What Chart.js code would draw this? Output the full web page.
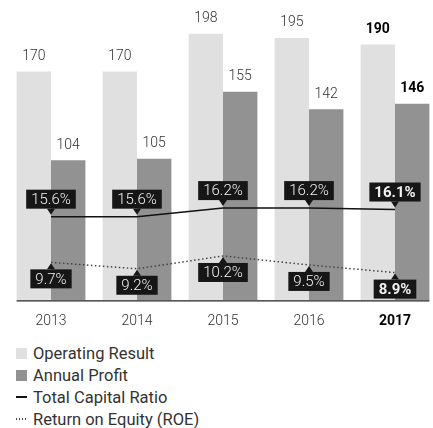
<!DOCTYPE html>
<html>
<head>
<meta charset="utf-8">
<script src="https://cdn.jsdelivr.net/npm/chart.js@4/dist/chart.umd.min.js"></script>
<style>
  html, body { margin: 0; padding: 0; background: #fff; overflow: hidden; }
  body { width: 433px; height: 428px; position: relative; font-family: Roboto, "Liberation Sans", sans-serif; }
  #chart { position: absolute; left: 0; top: 0; }
  #legend { position: absolute; left: 16px; top: 342px; color: #333; font-size: 16.5px; font-weight: 400; }
  #legend .item { height: 22px; display: flex; align-items: center; }
  #legend .sw { display: inline-block; width: 11px; margin-right: 6px; }
</style>
</head>
<body>
<canvas id="chart" width="438" height="340"></canvas>
<div id="legend"></div>
<script>
// Key figures 2013-2017
const years = ['2013', '2014', '2015', '2016', '2017'];
const operatingResult = [170, 170, 198, 195, 190];
const annualProfit = [104, 105, 155, 142, 146];
const capitalRatio = [15.6, 15.6, 16.2, 16.2, 16.1];
const roe = [9.7, 9.2, 10.2, 9.5, 8.9];

const lightGrey = '#e0e0e0';
const darkGrey = '#929292';
const lastIdx = years.length - 1;
const fontFamily = 'Roboto, "Liberation Sans", sans-serif';

const fmtPct = v => v.toFixed(1) + '%';

// numbers above the bars
const barValues = {
    id: 'barValues',
    afterDatasetsDraw(chart) {
        const ctx = chart.ctx;
        ctx.save();
        ctx.textAlign = 'center';
        ctx.textBaseline = 'middle';
        chart.data.datasets.forEach((ds, i) => {
            if (ds.type !== 'bar') return;
            chart.getDatasetMeta(i).data.forEach((bar, j) => {
                const last = j === lastIdx;
                ctx.font = (last ? 'bold ' : '300 ') + '14px ' + fontFamily;
                ctx.fillStyle = last ? '#000' : '#333';
                ctx.fillText(ds.data[j], bar.x, bar.y - 15);
            });
        });
        ctx.restore();
    }
};

// black callouts on the ratio lines
const ratioTags = {
    id: 'ratioTags',
    afterDatasetsDraw(chart) {
        const ctx = chart.ctx;
        ctx.save();
        ctx.textAlign = 'center';
        ctx.textBaseline = 'middle';
        chart.data.datasets.forEach((ds, i) => {
            if (!ds.tag) return;
            chart.getDatasetMeta(i).data.forEach((pt, j) => {
                const last = j === lastIdx;
                ctx.font = (last ? 'bold ' : '300 ') + '15px ' + fontFamily;
                const text = fmtPct(ds.data[j]);
                const w = ctx.measureText(text).width + 10;
                const h = 19;
                let top, tipY, baseY;
                if (ds.tag === 'above') {
                    top = pt.y - 8 - h;
                    baseY = top + h;
                    tipY = pt.y - 2;
                } else {
                    top = pt.y + 7;
                    baseY = top;
                    tipY = pt.y + 1;
                }
                ctx.fillStyle = '#161616';
                ctx.fillRect(pt.x - w / 2, top, w, h);
                ctx.beginPath();
                ctx.moveTo(pt.x - 4, baseY);
                ctx.lineTo(pt.x + 4, baseY);
                ctx.lineTo(pt.x, tipY);
                ctx.closePath();
                ctx.fill();
                ctx.fillStyle = '#f2f2f2';
                ctx.fillText(text, pt.x, top + h / 2 + 1);
            });
        });
        ctx.restore();
    }
};

// baseline under the bars only
const baseLine = {
    id: 'baseLine',
    afterDatasetsDraw(chart) {
        const first = chart.getDatasetMeta(0).data[0];
        const lastBar = chart.getDatasetMeta(1).data[lastIdx];
        const ctx = chart.ctx;
        const y = chart.chartArea.bottom + 0.8;
        ctx.save();
        ctx.strokeStyle = '#222';
        ctx.lineWidth = 1.3;
        ctx.beginPath();
        ctx.moveTo(first.x - first.width / 2, y);
        ctx.lineTo(lastBar.x + lastBar.width / 2, y);
        ctx.stroke();
        ctx.restore();
    }
};

const chart = new Chart(document.getElementById('chart'), {
    data: {
        labels: years,
        datasets: [
            {
                type: 'bar',
                label: 'Operating Result',
                data: operatingResult,
                backgroundColor: lightGrey,
                yAxisID: 'y',
                order: 2,
                barPercentage: 1,
                categoryPercentage: 0.8
            },
            {
                type: 'bar',
                label: 'Annual Profit',
                data: annualProfit,
                backgroundColor: darkGrey,
                yAxisID: 'y',
                order: 2,
                barPercentage: 1,
                categoryPercentage: 0.8
            },
            {
                type: 'line',
                label: 'Total Capital Ratio',
                data: capitalRatio,
                borderColor: '#111',
                borderWidth: 1.5,
                pointRadius: 0,
                yAxisID: 'yCap',
                order: 1,
                tag: 'above'
            },
            {
                type: 'line',
                label: 'Return on Equity (ROE)',
                data: roe,
                borderColor: '#444',
                borderWidth: 1.5,
                borderDash: [1.5, 2.5],
                pointRadius: 0,
                yAxisID: 'yRoe',
                order: 1,
                tag: 'below'
            }
        ]
    },
    options: {
        responsive: false,
        animation: false,
        layout: { padding: { left: 8, right: 0, top: 0, bottom: 0 } },
        plugins: {
            legend: { display: false },
            tooltip: { enabled: false }
        },
        scales: {
            x: {
                grid: { display: false, drawTicks: false },
                border: { display: false },
                afterFit: scale => { scale.height = 40; },
                ticks: {
                    padding: 13,
                    color: ctx => ctx.index === lastIdx ? '#000' : '#333',
                    font: ctx => ({
                        family: fontFamily,
                        size: 14,
                        weight: ctx.index === lastIdx ? 'bold' : '300'
                    })
                }
            },
            y: { display: false, min: 0, max: 223.2 },
            yCap: { display: false, min: 9.77, max: 30.76 },
            yRoe: { display: false, min: 6.76, max: 30.2 }
        }
    },
    plugins: [baseLine, barValues, ratioTags]
});

// legend, one entry per row
const legend = document.getElementById('legend');
chart.data.datasets.forEach(ds => {
    const item = document.createElement('div');
    item.className = 'item';
    const sw = document.createElement('span');
    sw.className = 'sw';
    if (ds.type === 'bar') {
        sw.style.height = '11px';
        sw.style.background = ds.backgroundColor;
    } else if (ds.borderDash) {
        sw.style.height = '1.5px';
        sw.style.backgroundImage = 'linear-gradient(to right, #444 50%, transparent 50%)';
        sw.style.backgroundSize = '3px 100%';
    } else {
        sw.style.height = '2px';
        sw.style.background = ds.borderColor;
    }
    item.appendChild(sw);
    item.appendChild(document.createTextNode(ds.label));
    legend.appendChild(item);
});
</script>
</body>
</html>
